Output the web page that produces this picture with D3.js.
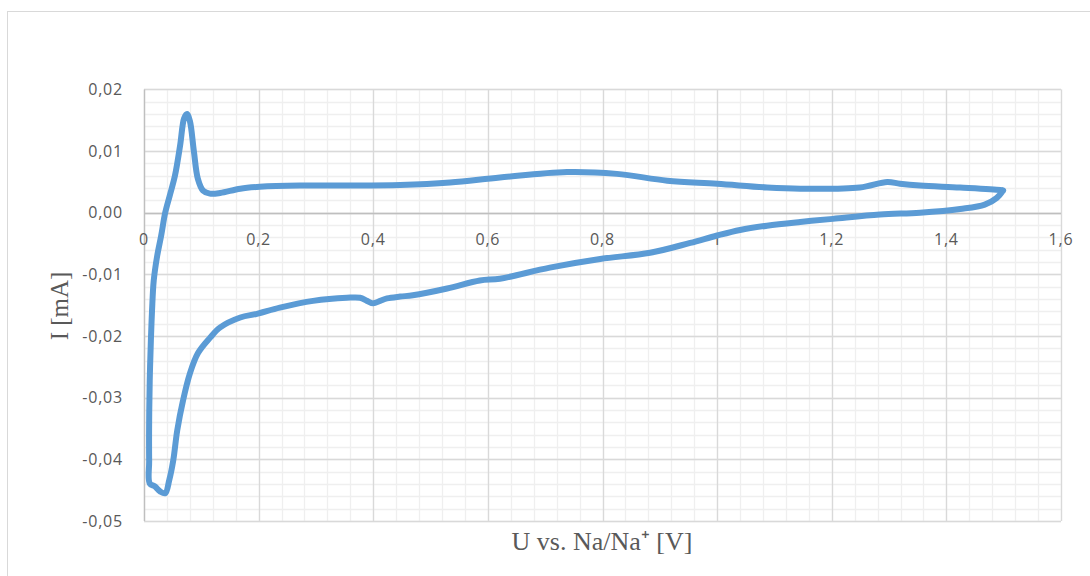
<!DOCTYPE html>
<html><head><meta charset="utf-8">
<script src="https://cdn.jsdelivr.net/npm/d3@7"></script>
<style>
html,body{margin:0;padding:0;background:#fff;}
svg{display:block;}
</style></head>
<body>
<svg id="chart" width="1090" height="576"></svg>
<script>
// Cyclic voltammogram: potential U [V] and current I [mA], closed loop
const potentialU = [1.499,1.488,1.467,1.424,1.354,1.284,1.202,1.145,1.087,1.04,1.0,0.953,0.883,0.796,0.708,0.621,0.586,0.529,0.469,0.447,0.424,0.412,0.4,0.389,0.377,0.354,0.295,0.237,0.197,0.168,0.133,0.115,0.094,0.08,0.068,0.058,0.051,0.044,0.037,0.028,0.019,0.01,0.009,0.009,0.01,0.012,0.014,0.017,0.023,0.03,0.037,0.045,0.054,0.063,0.07,0.075,0.08,0.087,0.094,0.103,0.115,0.133,0.168,0.202,0.272,0.359,0.447,0.534,0.621,0.738,0.825,0.913,1.0,1.087,1.145,1.249,1.297,1.319,1.354,1.424,1.494,1.499];
const currentI = [0.0036,0.0024,0.0013,0.0006,0.0,-0.0003,-0.001,-0.0015,-0.0021,-0.0028,-0.0037,-0.0049,-0.0065,-0.0075,-0.0089,-0.0107,-0.011,-0.0123,-0.0134,-0.0136,-0.0139,-0.0143,-0.0147,-0.0143,-0.0138,-0.0138,-0.0143,-0.0154,-0.0164,-0.017,-0.0186,-0.0203,-0.0228,-0.0261,-0.0305,-0.0353,-0.0402,-0.0434,-0.0455,-0.0452,-0.0444,-0.0439,-0.0402,-0.0337,-0.0272,-0.0207,-0.0159,-0.011,-0.007,-0.0037,0.0,0.0028,0.006,0.0109,0.0153,0.016,0.0149,0.01,0.0055,0.0036,0.0031,0.0032,0.0039,0.0042,0.0044,0.0044,0.0045,0.0049,0.0057,0.0066,0.0063,0.0052,0.0047,0.0041,0.0039,0.0041,0.005,0.0047,0.0044,0.0041,0.0037,0.0036];
const xTickValues = [0,0.2,0.4,0.6,0.8,1,1.2,1.4,1.6];
const xTickLabels = ["0","0,2","0,4","0,6","0,8","1","1,2","1,4","1,6"];
const yTickValues = [0.02,0.01,0,-0.01,-0.02,-0.03,-0.04,-0.05];
const yTickLabels = ["0,02","0,01","0,00","-0,01","-0,02","-0,03","-0,04","-0,05"];
const xTitle = "U vs. Na/Na\u207A [V]";
const yTitle = "I [mA]";

const svg = d3.select("#chart");
const L = 144, R = 1061, T = 89.4, B = 521;
const x = d3.scaleLinear().domain([0,1.6]).range([L,R]);
const y = d3.scaleLinear().domain([-0.05,0.02]).range([B,T]);

// outer chart border
svg.append("rect").attr("x",7.5).attr("y",11.5).attr("width",1200).attr("height",700)
  .attr("fill","#fff").attr("stroke","#d9d9d9").attr("stroke-width",1);

const g = svg.append("g");
// minor grid
const xMinor = d3.range(0,1.6001,0.04).map(v=>+v.toFixed(3));
const yMinor = d3.range(-0.05,0.02001,0.002).map(v=>+v.toFixed(4));
g.selectAll(".xm").data(xMinor).join("line")
  .attr("x1",d=>Math.round(x(d))+0.5).attr("x2",d=>Math.round(x(d))+0.5)
  .attr("y1",T).attr("y2",B).attr("stroke","#efefef").attr("stroke-width",1.3);
g.selectAll(".ym").data(yMinor).join("line")
  .attr("y1",d=>Math.round(y(d))+0.5).attr("y2",d=>Math.round(y(d))+0.5)
  .attr("x1",L).attr("x2",R).attr("stroke","#efefef").attr("stroke-width",1.3);
// major grid
g.selectAll(".xM").data(xTickValues).join("line")
  .attr("x1",d=>Math.round(x(d))+0.5).attr("x2",d=>Math.round(x(d))+0.5)
  .attr("y1",T).attr("y2",B).attr("stroke","#d9d9d9").attr("stroke-width",1.3);
g.selectAll(".yM").data(yTickValues).join("line")
  .attr("y1",d=>Math.round(y(d))+0.5).attr("y2",d=>Math.round(y(d))+0.5)
  .attr("x1",L).attr("x2",R).attr("stroke","#d9d9d9").attr("stroke-width",1.3);
// axis lines
g.append("line").attr("x1",L).attr("x2",R).attr("y1",Math.round(y(0))+0.5).attr("y2",Math.round(y(0))+0.5)
  .attr("stroke","#bfbfbf").attr("stroke-width",1.3);
g.append("line").attr("x1",L+0.5).attr("x2",L+0.5).attr("y1",T).attr("y2",B)
  .attr("stroke","#bfbfbf").attr("stroke-width",1.3);

// tick labels
const tf = "'Open Sans', 'Noto Sans', sans-serif";
svg.selectAll(".yl").data(yTickValues).join("text")
  .attr("x",123).attr("y",d=>y(d)).attr("dy","0.35em").attr("text-anchor","end")
  .attr("font-family",tf).attr("font-size",16).attr("letter-spacing",0.8).attr("fill","#595959")
  .text((d,i)=>yTickLabels[i]);
svg.selectAll(".xl").data(xTickValues).join("text")
  .attr("x",d=>x(d)).attr("y",y(0)+32).attr("text-anchor","middle")
  .attr("font-family",tf).attr("font-size",16).attr("letter-spacing",0.8).attr("fill","#595959")
  .text((d,i)=>xTickLabels[i]);

// curve
const pts = potentialU.map((u,i)=>[u,currentI[i]]);
const line = d3.line().x(d=>x(d[0])).y(d=>y(d[1])).curve(d3.curveCatmullRom.alpha(0.5));
svg.append("path").datum(pts).attr("d",line).attr("fill","none")
  .attr("stroke","#5b9bd5").attr("stroke-width",6).attr("stroke-linejoin","round").attr("stroke-linecap","round");

// axis titles
svg.append("text").attr("x",602).attr("y",550).attr("text-anchor","middle")
  .attr("font-family","'Liberation Serif', serif").attr("font-size",26).attr("fill","#595959")
  .text(xTitle);
svg.append("text").attr("transform","translate(68,306) rotate(-90)").attr("text-anchor","middle")
  .attr("font-family","'Liberation Serif', serif").attr("font-size",25).attr("fill","#595959")
  .text(yTitle);
</script>
</body></html>
